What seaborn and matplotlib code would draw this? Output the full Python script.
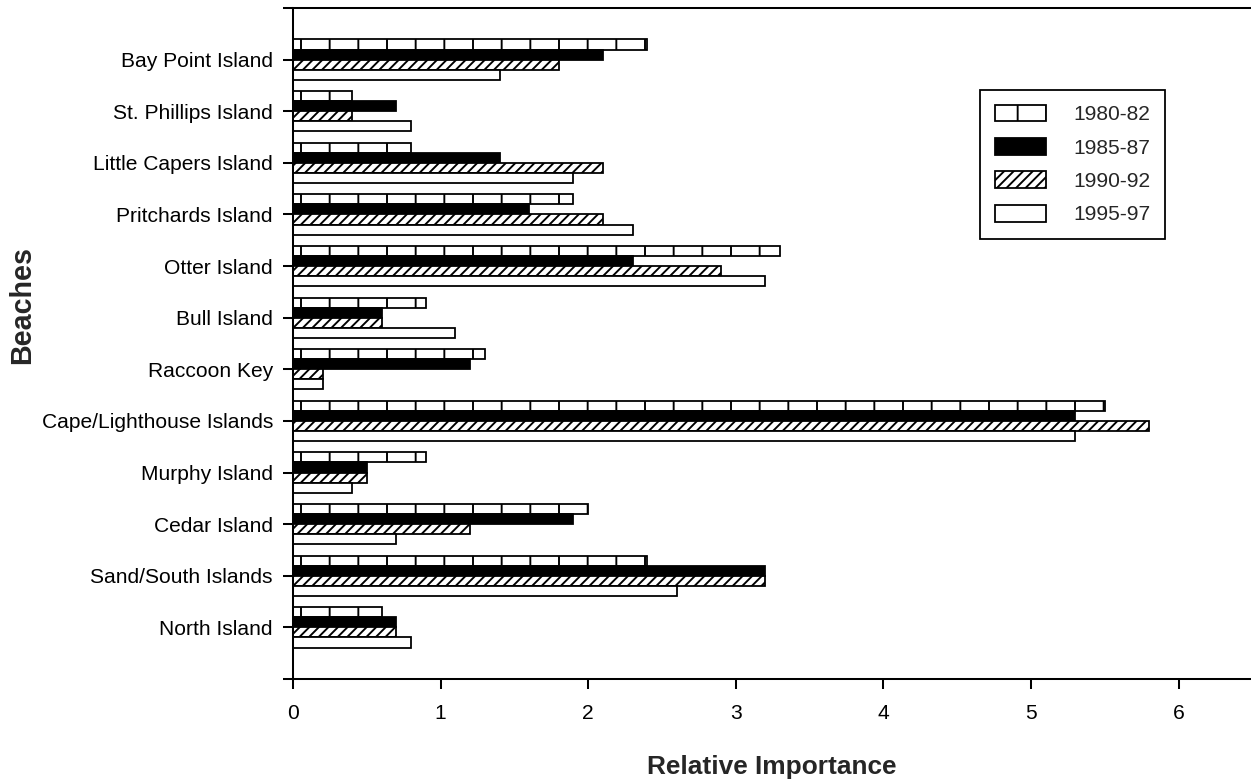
import matplotlib
matplotlib.use("Agg")
import matplotlib.pyplot as plt
import seaborn as sns
import pandas as pd

# Data
beaches = ["Bay Point Island", "St. Phillips Island", "Little Capers Island",
           "Pritchards Island", "Otter Island", "Bull Island", "Raccoon Key",
           "Cape/Lighthouse Islands", "Murphy Island", "Cedar Island",
           "Sand/South Islands", "North Island"]
periods = ["1980-82", "1985-87", "1990-92", "1995-97"]
v_1980_82 = [2.4, 0.4, 0.8, 1.9, 3.3, 0.9, 1.3, 5.5, 0.9, 2.0, 2.4, 0.6]
v_1985_87 = [2.1, 0.7, 1.4, 1.6, 2.3, 0.6, 1.2, 5.3, 0.5, 1.9, 3.2, 0.7]
v_1990_92 = [1.8, 0.4, 2.1, 2.1, 2.9, 0.6, 0.2, 5.8, 0.5, 1.2, 3.2, 0.7]
v_1995_97 = [1.4, 0.8, 1.9, 2.3, 3.2, 1.1, 0.2, 5.3, 0.4, 0.7, 2.6, 0.8]

fills = ["white", "black", "white", "white"]
hatches = ["|", "", "//////", ""]

series = [v_1980_82, v_1985_87, v_1990_92, v_1995_97]
df = pd.DataFrame([
    {"Beach": b, "Period": p, "Value": v}
    for p, vals in zip(periods, series)
    for b, v in zip(beaches, vals)
])

sns.set_style("ticks")
plt.rcParams["font.family"] = ["Liberation Sans", "DejaVu Sans"]
plt.rcParams["hatch.linewidth"] = 0.8
plt.rcParams["hatch.color"] = "black"

# dpi chosen so the default hatch tile gives the reference line spacing
DPI = 172
fig = plt.figure(figsize=(1251 / DPI, 784 / DPI), dpi=DPI)
ax = fig.add_axes([293 / 1251, 105 / 784, 958 / 1251, 671 / 784])

sns.barplot(data=df, y="Beach", x="Value", hue="Period", order=beaches,
            hue_order=periods, palette=fills, orient="h", width=0.78,
            edgecolor="black", linewidth=0.75, saturation=1, legend=False,
            errorbar=None, ax=ax)

for cont, h in zip(ax.containers, hatches):
    for bar in cont:
        bar.set_hatch(h)
        bar.set_edgecolor("black")

ax.set_xlim(0, 6.49)
ax.set_ylim(len(beaches), -1)
ax.set_xticks(range(0, 7))
ax.set_yticks(range(len(beaches)))
ax.set_yticks([-1, len(beaches)], minor=True)

ax.spines["right"].set_visible(False)
for side in ["left", "top", "bottom"]:
    ax.spines[side].set_linewidth(0.85)
    ax.spines[side].set_color("black")

ax.tick_params(axis="both", which="both", direction="out", length=4.2,
               width=0.85, color="black", labelsize=8.8, labelcolor="black")
ax.tick_params(axis="x", pad=6.3)
ax.tick_params(axis="y", pad=4.2)
ax.tick_params(axis="y", which="minor", left=True)

ax.set_xlabel("Relative Importance", fontsize=11, fontweight="bold")
ax.set_ylabel("Beaches", fontsize=12, fontweight="bold")
ax.xaxis.set_label_coords(0.5, -0.114)
ax.yaxis.set_label_coords(-0.268, 0.557)

leg = ax.legend(ax.containers, periods, loc="upper left",
                bbox_to_anchor=(0.717, 0.878), borderaxespad=0,
                fontsize=8.8, frameon=True, fancybox=False, shadow=False,
                handlelength=2.43, handleheight=0.86, handletextpad=1.3,
                labelspacing=0.65, borderpad=0.7)
leg.get_frame().set_edgecolor("black")
leg.get_frame().set_linewidth(0.75)
leg.get_frame().set_alpha(1)

fig.savefig("out.png", dpi=DPI)
